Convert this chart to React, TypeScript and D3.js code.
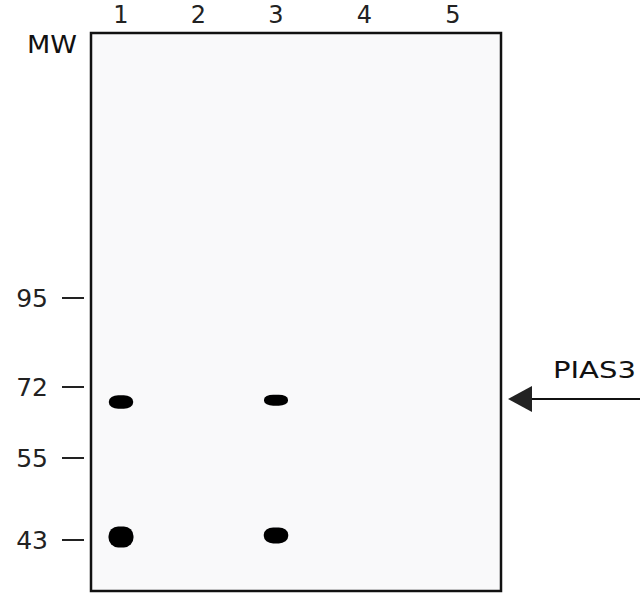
import React from 'react';
import * as d3 from 'd3';

// Molecular-weight markers (kDa)
const markerMW = [95, 72, 55, 43];
// Lanes
const lanes = [1, 2, 3, 4, 5];
// Detected bands
const bandLane = [1, 3, 1, 3];
const bandMW = [68, 68.5, 43.4, 43.6];
const bandSignal = [0.7, 0.6, 1.0, 0.8];
const targetLabel = 'PIAS3';
const targetMW = 68.8;

const W = 640;
const H = 594;
const frame = { x: 91, y: 33, w: 410, h: 558 };

export default function App() {
  const y = d3.scaleLog().domain(markerMW).range([298, 387, 458, 540]);
  const x = d3.scaleLinear().domain([1, 3, 5]).range([121, 276, 453]);
  const bh = d3.scaleLinear().domain([0.6, 1]).range([11, 21]);
  const bw = d3.scaleLinear().domain([0.6, 1]).range([24, 25]);
  const font = '"DejaVu Sans", Verdana, sans-serif';
  const ay = y(targetMW);

  return (
    <svg width={W} height={H} style={{ position: 'absolute', left: 0, top: 0, background: '#fff' }}>
      <defs>
        <filter id="soft" x="-30%" y="-30%" width="160%" height="160%">
          <feGaussianBlur stdDeviation="0.45" />
        </filter>
      </defs>
      <rect x={0} y={0} width={W} height={H} fill="#fff" />
      <rect x={frame.x} y={frame.y} width={frame.w} height={frame.h} fill="#f9f9fa" stroke="#111" strokeWidth={2.5} />

      {/* lane labels */}
      {lanes.map((l) => (
        <text key={l} x={x(l)} y={23} textAnchor="middle" fontFamily={font} fontSize={24} fill="#222">
          {l}
        </text>
      ))}

      <text x={27} y={53} fontFamily={font} fontSize={25} fill="#111" textLength={50} lengthAdjust="spacingAndGlyphs">
        MW
      </text>

      {/* markers */}
      {markerMW.map((m) => (
        <g key={m}>
          <text x={48} y={y(m) + 9} textAnchor="end" fontFamily={font} fontSize={25} fill="#222">
            {m}
          </text>
          <line x1={62} x2={84} y1={y(m)} y2={y(m)} stroke="#222" strokeWidth={2} />
        </g>
      ))}

      {/* bands */}
      {bandLane.map((l, i) => {
        const h = bh(bandSignal[i]);
        const w = bw(bandSignal[i]);
        return (
          <rect
            key={i}
            x={x(l) - w / 2}
            y={y(bandMW[i]) - h / 2}
            width={w}
            height={h}
            rx={w / 2.6}
            ry={h / 2.2}
            fill="#000"
            filter="url(#soft)"
          />
        );
      })}

      {/* arrow */}
      <line x1={530} x2={640} y1={ay} y2={ay} stroke="#111" strokeWidth={2} />
      <polygon points={`508,${ay} 532,${ay - 13} 532,${ay + 13}`} fill="#222" />
      <text x={553} y={378} fontFamily={font} fontSize={23} fill="#111" textLength={83} lengthAdjust="spacingAndGlyphs">
        {targetLabel}
      </text>
    </svg>
  );
}
